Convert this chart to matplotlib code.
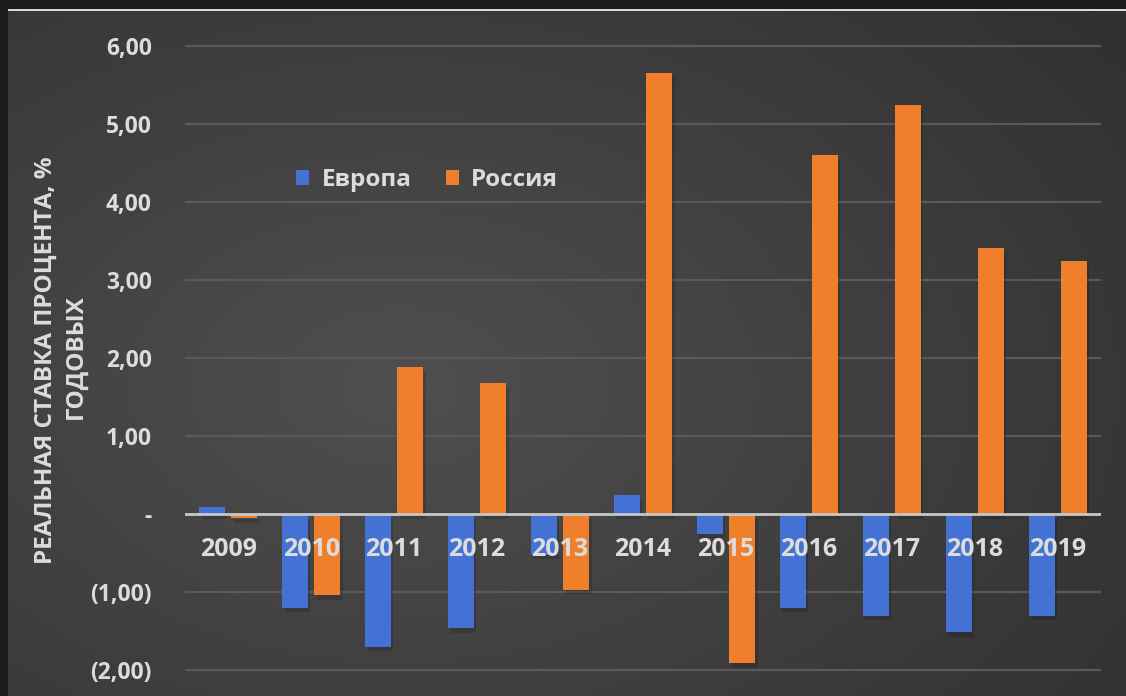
import numpy as np
import matplotlib
matplotlib.use('Agg')
import matplotlib.pyplot as plt
from matplotlib.patches import Rectangle

plt.rcParams['font.family'] = ['Open Sans', 'DejaVu Sans']
plt.rcParams['font.weight'] = 'bold'

years = ['2009', '2010', '2011', '2012', '2013', '2014',
         '2015', '2016', '2017', '2018', '2019']
europe = [0.09, -1.20, -1.70, -1.46, -0.52, 0.24,
          -0.25, -1.20, -1.30, -1.51, -1.30]
russia = [-0.05, -1.04, 1.88, 1.68, -0.97, 5.65,
          -1.91, 4.60, 5.24, 3.41, 3.24]
yticks = [-2, -1, 0, 1, 2, 3, 4, 5, 6]
ytick_labels = ['(2,00)', '(1,00)', '-', '1,00', '2,00', '3,00', '4,00', '5,00', '6,00']

BLUE = '#4472D4'
ORANGE = '#F07F2C'
TXT = '#dcdcdc'

W, H = 1126, 696
fig = plt.figure(figsize=(W / 100, H / 100), dpi=100)
fig.patch.set_facecolor('#1b1b1b')

# panel background: soft radial gradient
bg = fig.add_axes([8 / W, 0, 1 - 8 / W, 1 - 11 / H])
gx, gy = np.meshgrid(np.linspace(0, 1, 400), np.linspace(0, 1, 250))
r = np.sqrt(((gx - 0.35) / 0.75) ** 2 + ((gy - 0.55) / 0.8) ** 2)
shade = np.clip(0.31 - 0.11 * r, 0.18, 0.31)
bg.imshow(np.dstack([shade] * 3), aspect='auto', extent=[0, 1, 0, 1], interpolation='bicubic')
bg.axis('off')

# thin light line along the top edge of the panel
fig.add_artist(Rectangle((8 / W, 1 - 11 / H), 1, 2 / H, transform=fig.transFigure,
                         color='#d8d8d8', lw=0))

ax = fig.add_axes([185 / W, 0, (1101 - 185) / W, 1 - 30 / H])
ax.patch.set_alpha(0)

x = np.arange(len(years))
bw = 0.31
off = 0.195

# faint drop shadows under the bars
for vals, dx in ((europe, -off), (russia, off)):
    for xi, v in zip(x, vals):
        ax.add_patch(Rectangle((xi + dx - bw / 2 + 0.03, min(v, 0) - 0.06), bw, abs(v),
                               color='black', alpha=0.15, lw=0, zorder=1))

ax.bar(x - off, europe, bw, color=BLUE, zorder=2, label='Европа')
ax.bar(x + off, russia, bw, color=ORANGE, zorder=2, label='Россия')

ax.set_xlim(-0.52, 10.52)
ax.set_ylim(-2.33, 6.2)

for t in yticks:
    if t != 0:
        ax.axhline(t, color='#5a5a5a', lw=1.6, zorder=0)
ax.axhline(0, color='#c8c8c8', lw=2.0, zorder=3)

for s in ax.spines.values():
    s.set_visible(False)

ax.set_yticks(yticks)
ax.set_yticklabels(ytick_labels)
ax.tick_params(axis='y', length=0, pad=24, labelsize=16.5, labelcolor=TXT)
ax.set_xticks([])

for xi, yr in zip(x, years):
    ax.text(xi, -0.45, yr, ha='center', va='center', fontsize=18,
            color=TXT, fontweight='bold', zorder=4)

fig.text(46 / W, 1 - 360 / H, 'РЕАЛЬНАЯ СТАВКА ПРОЦЕНТА, %', rotation=90,
         ha='center', va='center', fontsize=17.5, color=TXT, fontweight='bold')
fig.text(76 / W, 1 - 357 / H, 'ГОДОВЫХ', rotation=90,
         ha='center', va='center', fontsize=17.5, color=TXT, fontweight='bold')

leg = ax.legend(loc='center', bbox_to_anchor=(427 / W, 1 - 180 / H),
                bbox_transform=fig.transFigure, ncol=2, frameon=False,
                handlelength=0.55, handleheight=0.55, handletextpad=0.5,
                columnspacing=1.4, fontsize=17.5)
for t in leg.get_texts():
    t.set_color(TXT)

fig.savefig('out.png', dpi=100, facecolor=fig.get_facecolor())
